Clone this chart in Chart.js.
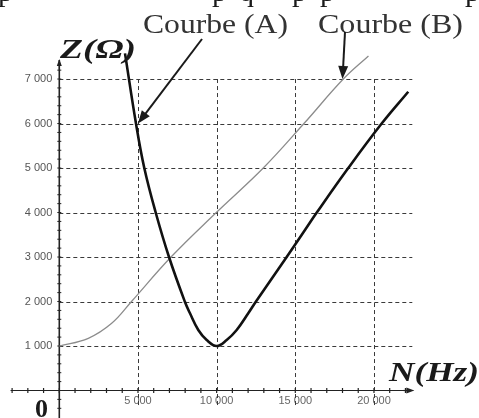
<!DOCTYPE html>
<html>
<head>
<meta charset="utf-8">
<script src="https://cdn.jsdelivr.net/npm/chart.js@4/dist/chart.umd.min.js"></script>
<style>
  html, body { margin: 0; padding: 0; background: #fff; }
  #wrap { width: 479px; height: 418px; }
</style>
</head>
<body>
<div id="wrap"><canvas id="chart" width="479" height="418"></canvas></div>
<script>
// ── Data ─────────────────────────────────────────────────────
// Courbe (A): resonance curve, thick black
const freqA = [4176, 4874, 5402, 6126, 6972, 7976, 8306, 8834, 9368, 10000, 10639, 11274, 12010, 12501, 14452, 15615, 16365, 18367, 20490, 22180];
const impA  = [7578, 6000, 5000, 4000, 3000, 2000, 1735, 1360, 1135, 1000, 1135, 1360, 1735, 2000, 3000, 3607, 4000, 5000, 6000, 6715];
// Courbe (B): thin grey
const freqB = [0, 1843, 3330, 4590, 7100, 9980, 12965, 15550, 18050, 19650];
const impB  = [1000, 1173, 1510, 2000, 3000, 4000, 5000, 6000, 7000, 7520];

const xTicks = [5000, 10000, 15000, 20000];
const yTicks = [1000, 2000, 3000, 4000, 5000, 6000, 7000];

const fmt = v => String(v).replace(/\B(?=(\d{3})+$)/g, ' ');
const pts = (xs, ys) => xs.map((x, i) => ({ x, y: ys[i] }));

// ── Helpers ──────────────────────────────────────────────────
function stretchText(ctx, txt, x, y, w) {
  const m = ctx.measureText(txt).width;
  ctx.save();
  ctx.translate(x, y);
  ctx.scale(w / m, 1);
  ctx.fillText(txt, 0, 0);
  ctx.restore();
}
function arrow(ctx, x1, y1, x2, y2, len, half) {
  const a = Math.atan2(y2 - y1, x2 - x1);
  ctx.beginPath(); ctx.moveTo(x1, y1); ctx.lineTo(x2 - Math.cos(a) * len * 0.6, y2 - Math.sin(a) * len * 0.6); ctx.stroke();
  ctx.beginPath();
  ctx.moveTo(x2, y2);
  ctx.lineTo(x2 - Math.cos(a) * len - Math.sin(a) * half, y2 - Math.sin(a) * len + Math.cos(a) * half);
  ctx.lineTo(x2 - Math.cos(a) * len + Math.sin(a) * half, y2 - Math.sin(a) * len - Math.cos(a) * half);
  ctx.closePath(); ctx.fill();
}

// ── Grid, axes and labels drawn with the chart's scales ──────
const decor = {
  id: 'decor',
  beforeDatasetsDraw(chart) {
    const { ctx, scales: { x, y } } = chart;
    const x0 = x.getPixelForValue(0), y0 = y.getPixelForValue(0);
    ctx.save();
    // dashed grid
    ctx.strokeStyle = '#3a3a3a'; ctx.lineWidth = 1; ctx.setLineDash([4, 3]);
    yTicks.forEach(v => {
      const py = Math.round(y.getPixelForValue(v)) + 0.5;
      ctx.beginPath(); ctx.moveTo(x0, py); ctx.lineTo(x.right - 1, py); ctx.stroke();
    });
    xTicks.forEach(v => {
      const px = Math.round(x.getPixelForValue(v)) + 0.5;
      ctx.beginPath(); ctx.moveTo(px, y.getPixelForValue(7000)); ctx.lineTo(px, y0 + 16); ctx.stroke();
    });
    ctx.setLineDash([]);
    // x axis with minor ticks
    ctx.strokeStyle = '#222'; ctx.fillStyle = '#222'; ctx.lineWidth = 1.2;
    const xl = x.getPixelForValue(-3100);
    ctx.beginPath(); ctx.moveTo(xl, y0); ctx.lineTo(x.right, y0); ctx.stroke();
    for (let v = -3000; v <= 22000; v += 1000) {
      const px = x.getPixelForValue(v);
      ctx.beginPath(); ctx.moveTo(px, y0 - 2.5); ctx.lineTo(px, y0 + 2.5); ctx.stroke();
    }
    arrow(ctx, x.right - 10, y0, x.right + 1, y0, 8, 3);
    // y axis with minor ticks
    ctx.lineWidth = 1.6;
    const yt = y.getPixelForValue(7430);
    ctx.beginPath(); ctx.moveTo(x0, chart.height); ctx.lineTo(x0, yt); ctx.stroke();
    ctx.lineWidth = 1;
    for (let v = -400; v <= 7200; v += 200) {
      const py = y.getPixelForValue(v);
      ctx.beginPath(); ctx.moveTo(x0 - 2, py); ctx.lineTo(x0 + 2, py); ctx.stroke();
    }
    arrow(ctx, x0, yt + 10, x0, yt - 1, 7, 2.5);
    ctx.restore();
  },
  afterDraw(chart) {
    const { ctx, scales: { x, y } } = chart;
    ctx.save();
    ctx.textBaseline = 'alphabetic'; ctx.textAlign = 'left';
    ctx.fillStyle = '#1a1a1a'; ctx.strokeStyle = '#1a1a1a';
    // cut-off line of text at the very top
    ctx.font = '30px "Liberation Serif"';
    [['p', -2], ['p', 212], ['q', 239], ['p', 292], ['p', 320], ['p', 465]].forEach(([t, px]) => ctx.fillText(t, px, 1));
    // curve names
    ctx.fillStyle = '#333';
    ctx.font = '28px "Liberation Serif"';
    stretchText(ctx, 'Courbe (A)', 143, 33, 145);
    stretchText(ctx, 'Courbe (B)', 318, 33, 145);
    // axis titles
    ctx.fillStyle = '#1a1a1a';
    ctx.font = 'italic bold 27px "Liberation Serif"';
    stretchText(ctx, 'Z(Ω)', 60, 58, 76);
    stretchText(ctx, 'N(Hz)', 389, 381, 90);
    ctx.font = 'bold 26px "Liberation Serif"';
    ctx.fillText('0', 35, 417);
    // pointer arrows
    ctx.lineWidth = 2;
    arrow(ctx, 202, 39, x.getPixelForValue(5000), y.getPixelForValue(6000), 13, 5);
    arrow(ctx, 345, 32, x.getPixelForValue(18000), y.getPixelForValue(7000), 13, 5);
    ctx.restore();
  }
};

// ── Chart ────────────────────────────────────────────────────
new Chart(document.getElementById('chart'), {
  type: 'line',
  data: {
    datasets: [
      { label: 'Courbe (A)', data: pts(freqA, impA), borderColor: '#111', borderWidth: 2.6,
        pointRadius: 0, tension: 0.4, fill: false },
      { label: 'Courbe (B)', data: pts(freqB, impB), borderColor: '#8c8c8c', borderWidth: 1.3,
        pointRadius: 0, tension: 0.4, fill: false }
    ]
  },
  options: {
    responsive: false,
    animation: false,
    devicePixelRatio: 1,
    layout: { padding: { left: 0, right: 65.7, top: 47.9, bottom: 0 } },
    plugins: { legend: { display: false }, tooltip: { enabled: false } },
    scales: {
      x: {
        type: 'linear', min: 0, max: 22500,
        grid: { display: false, drawTicks: false, tickLength: 0 }, border: { display: false },
        afterBuildTicks: s => { s.ticks = xTicks.map(value => ({ value })); },
        afterFit: s => { s.height = 27.5; },
        ticks: { color: '#666', font: { family: 'Liberation Sans', size: 11 }, padding: 4,
                 maxRotation: 0, autoSkip: false, callback: fmt }
      },
      y: {
        type: 'linear', min: 0, max: 7700,
        grid: { display: false, drawTicks: false, tickLength: 0 }, border: { display: false },
        afterBuildTicks: s => { s.ticks = yTicks.map(value => ({ value })); },
        afterFit: s => { s.width = 59.3; },
        ticks: { color: '#555', font: { family: 'Liberation Sans', size: 11 }, padding: 7,
                 autoSkip: false, callback: fmt }
      }
    }
  },
  plugins: [decor]
});
</script>
</body>
</html>
